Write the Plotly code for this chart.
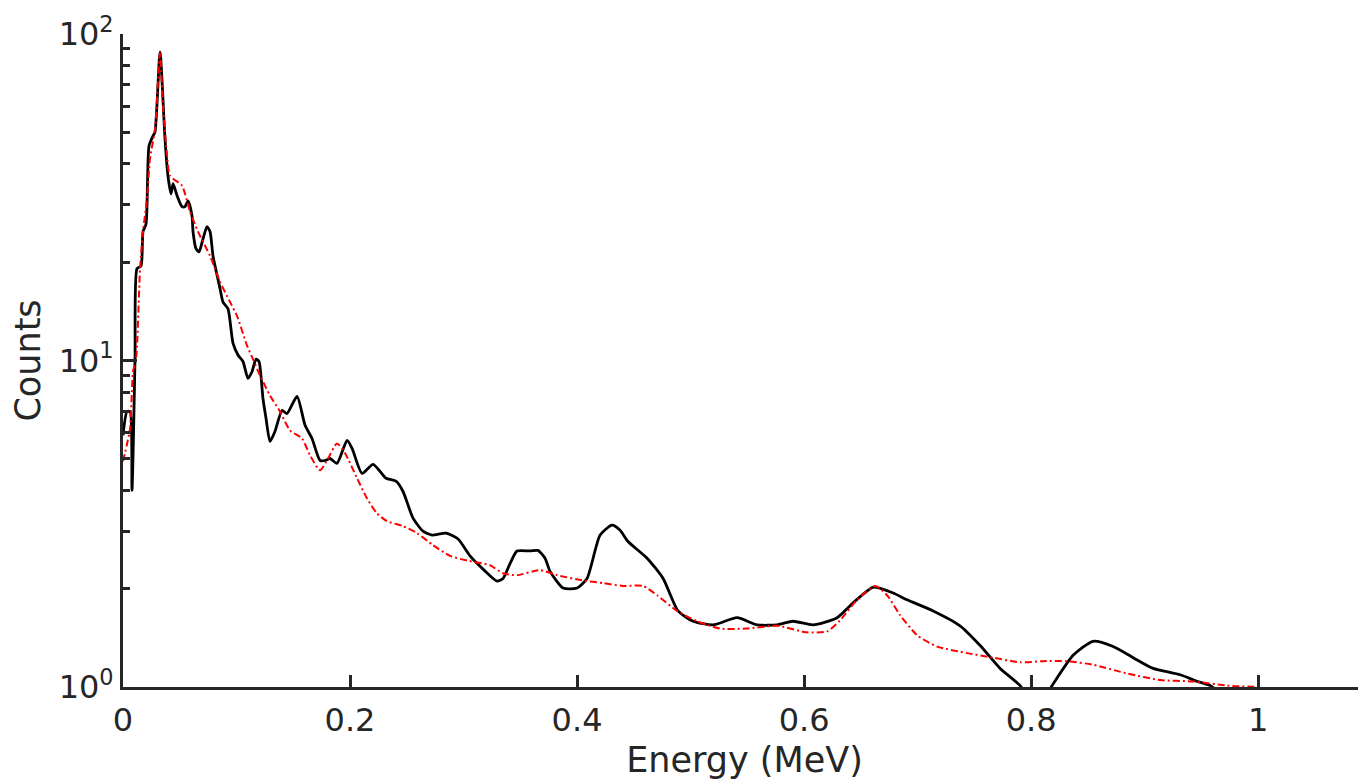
import plotly.graph_objects as go

# Measured spectrum (black, solid)
energy_meas = [0.000, 0.0035, 0.0062, 0.0079, 0.0106, 0.0123, 0.0159, 0.0176, 0.0203, 0.0229,
               0.0264, 0.0282, 0.0326, 0.0370, 0.0396, 0.0423, 0.0441, 0.0476, 0.0520, 0.0546,
               0.0573, 0.0608, 0.0617, 0.0643, 0.0670, 0.0705, 0.0740, 0.0767, 0.0793, 0.0855,
               0.0881, 0.0925, 0.0969, 0.1013, 0.1057, 0.1101, 0.1137, 0.1172, 0.1198, 0.1233,
               0.1260, 0.1295, 0.1339, 0.1401, 0.1445, 0.1533, 0.1604, 0.1665, 0.1736, 0.1780,
               0.1824, 0.1885, 0.1974, 0.2018, 0.2106, 0.2203, 0.2317, 0.2405, 0.2467, 0.2555,
               0.2643, 0.2722, 0.2846, 0.2952, 0.3057, 0.3181, 0.3295, 0.3348, 0.3410, 0.3471,
               0.3586, 0.3656, 0.3718, 0.3762, 0.3877, 0.4000, 0.4088, 0.4203, 0.4308, 0.4379,
               0.4449, 0.4617, 0.4758, 0.4890, 0.5022, 0.5198, 0.5410, 0.5586, 0.5762, 0.5903,
               0.6079, 0.6291, 0.6432, 0.6608, 0.6784, 0.6907, 0.7137, 0.7374, 0.7551, 0.7727,
               0.7903, 0.8050, 0.8185, 0.8370, 0.8546, 0.8722, 0.8899, 0.9075, 0.9313, 0.9463,
               0.9577, 0.9750]
counts_meas = [5.90, 6.98, 6.98, 4.00, 10.1, 19.1, 19.5, 24.8, 26.2, 45.4,
               48.7, 50.1, 88.1, 47.7, 36.8, 32.4, 34.8, 32.0, 29.6, 29.6,
               30.8, 27.7, 24.8, 22.0, 21.5, 23.6, 25.7, 24.8, 20.9, 16.6,
               15.1, 14.4, 11.3, 10.4, 9.93, 8.81, 9.25, 10.1, 9.93, 7.65,
               6.65, 5.65, 6.07, 7.03, 6.88, 7.76, 6.33, 5.77, 4.94, 4.94,
               5.01, 4.84, 5.69, 5.38, 4.51, 4.81, 4.36, 4.27, 3.97, 3.29,
               3.00, 2.92, 2.96, 2.84, 2.52, 2.28, 2.11, 2.15, 2.39, 2.61,
               2.61, 2.62, 2.48, 2.26, 2.01, 2.01, 2.15, 2.92, 3.13, 3.02,
               2.79, 2.48, 2.15, 1.71, 1.59, 1.55, 1.63, 1.55, 1.55, 1.59,
               1.55, 1.63, 1.81, 2.02, 1.94, 1.85, 1.71, 1.54, 1.34, 1.14,
               1.01, 0.85, 1.01, 1.25, 1.38, 1.33, 1.23, 1.14, 1.09, 1.04,
               1.01, 0.90]

# Simulated spectrum (red, dash-dot)
energy_sim = [0.000, 0.0062, 0.0088, 0.0115, 0.0150, 0.0176, 0.0211, 0.0238, 0.0282, 0.0326,
              0.0352, 0.0388, 0.0414, 0.0520, 0.0590, 0.0661, 0.0767, 0.0855, 0.0943, 0.1004,
              0.1093, 0.1145, 0.1207, 0.1295, 0.1383, 0.1471, 0.1577, 0.1648, 0.1736, 0.1806,
              0.1885, 0.1956, 0.2062, 0.2150, 0.2238, 0.2326, 0.2467, 0.2590, 0.2731, 0.2881,
              0.3031, 0.3233, 0.3348, 0.3471, 0.3674, 0.3824, 0.4053, 0.4229, 0.4405, 0.4581,
              0.4705, 0.4881, 0.5057, 0.5260, 0.5498, 0.5762, 0.6026, 0.6203, 0.6317, 0.6467,
              0.6626, 0.6731, 0.6846, 0.6996, 0.7172, 0.7436, 0.7665, 0.7903, 0.8106, 0.8317,
              0.8546, 0.8846, 0.9137, 0.9427, 0.9727, 1.0000]
counts_sim = [4.91, 6.19, 9.25, 10.1, 19.1, 24.8, 31.3, 41.5, 51.2, 88.1,
              60.2, 42.4, 36.8, 34.3, 28.6, 24.8, 20.9, 17.4, 15.1, 13.7,
              11.1, 10.1, 9.00, 7.81, 6.98, 6.11, 5.77, 5.12, 4.61, 5.01,
              5.57, 5.20, 4.36, 3.78, 3.40, 3.22, 3.11, 2.96, 2.72, 2.52,
              2.44, 2.36, 2.23, 2.20, 2.28, 2.20, 2.12, 2.08, 2.04, 2.04,
              1.91, 1.71, 1.59, 1.51, 1.51, 1.54, 1.47, 1.48, 1.60, 1.85,
              2.04, 1.91, 1.66, 1.44, 1.33, 1.27, 1.23, 1.19, 1.20, 1.20,
              1.17, 1.10, 1.05, 1.04, 1.01, 1.00]

x_ticks = [0, 0.2, 0.4, 0.6, 0.8, 1]
x_ticktext = ["0", "0.2", "0.4", "0.6", "0.8", "1"]
y_ticks = [1, 10, 100]
y_ticktext = ["10<sup>0</sup>", "10<sup>1</sup>", "10<sup>2</sup>"]
y_minor = [2, 3, 4, 5, 6, 7, 8, 9, 20, 30, 40, 50, 60, 70, 80, 90]

AX = "rgb(38,38,38)"
FONT = "DejaVu Sans"

fig = go.Figure()
fig.add_trace(go.Scatter(x=energy_meas, y=counts_meas, mode="lines",
                         line=dict(color="black", width=2.8, shape="spline", smoothing=0.6),
                         showlegend=False))
fig.add_trace(go.Scatter(x=energy_sim, y=counts_sim, mode="lines",
                         line=dict(color="red", width=2, dash="7px,3px,2px,3px",
                                   shape="spline", smoothing=0.6),
                         showlegend=False))

fig.update_layout(
    width=1358, height=772,
    margin=dict(l=115, r=0, t=26, b=91),
    paper_bgcolor="white", plot_bgcolor="white",
    font=dict(family=FONT, size=32, color=AX),
    xaxis=dict(range=[0, 1.095], tickvals=x_ticks, ticktext=x_ticktext,
               showgrid=False, zeroline=False, showline=True, linecolor=AX, linewidth=3,
               ticks="inside", ticklen=12, tickwidth=3, tickcolor=AX,
               ticklabelstandoff=3,
               title=dict(text="Energy (MeV)", font=dict(size=35, color=AX), standoff=16)),
    yaxis=dict(type="log", range=[0, 2], tickvals=y_ticks, ticktext=y_ticktext,
               showgrid=False, zeroline=False, showline=True, linecolor=AX, linewidth=3,
               ticks="inside", ticklen=14, tickwidth=3, tickcolor=AX,
               minor=dict(tickvals=y_minor, ticks="inside", ticklen=7, tickwidth=3, tickcolor=AX),
               title=dict(text="Counts", font=dict(size=35, color=AX), standoff=10)),
)

fig.write_html("out.html")
